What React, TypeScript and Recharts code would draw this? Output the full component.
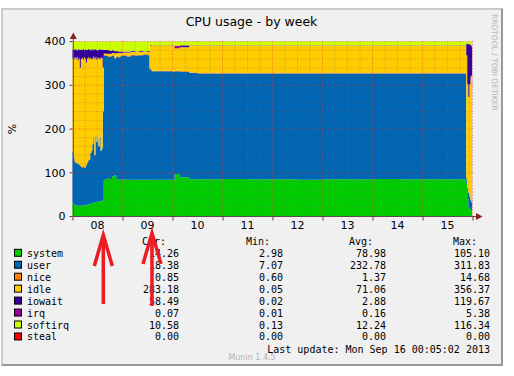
import React from "react";
import { AreaChart, Area, XAxis, YAxis } from "recharts";

// hours since Sep 08 00:00 (30 min RRD steps, denser where the picture moves)
const hours = [
  0, 0.5, 1, 1.5, 2, 2.5, 3, 3.5, 4, 4.5, 5, 5.5, 6, 6.5, 7, 7.5, 8, 8.5, 9, 9.5,
  10, 10.5, 11, 11.5, 12, 12.5, 13, 13.5, 14, 14.5,
  15, 16, 17, 18, 19, 20, 21, 22, 23, 24, 26, 28, 30, 32, 34, 36,
  37, 38, 42, 48, 49, 51.5, 56, 60, 72, 84, 96, 108, 120, 132, 144, 156, 168, 180,
  188.5, 189, 189.5, 190, 190.5, 191, 191.5, 191.8,
];

const system = [
  33, 28, 25, 25, 25, 24, 25, 25, 24, 25, 26, 26, 25, 27, 27, 28, 28, 30, 29, 31,
  33, 32, 33, 34, 33, 35, 34, 35, 36, 37,
  84, 86, 88, 85, 92, 94, 86, 84, 84, 85, 84, 84, 84, 84, 84, 84,
  84, 84, 84, 84, 97, 90, 85, 85, 86, 85, 85, 84, 85, 85, 86, 85, 85, 85,
  85, 75, 40, 22, 18, 15, 14, 14,
];
const user = [
  115, 107, 101, 97, 98, 96, 94, 91, 90, 87, 89, 85, 87, 90, 96, 100, 102, 115, 121, 134,
  147, 108, 153, 136, 145, 125, 148, 115, 119, 203,
  284, 281, 277, 281, 276, 268, 280, 280, 283, 283, 282, 285, 284, 285, 286, 285,
  253, 248, 248, 247, 235, 241, 243, 242, 241, 242, 242, 243, 242, 242, 241, 242, 242, 242,
  242, 12, 25, 32, 28, 22, 18, 18,
];
const nice = [
  1, 1, 1, 1, 1, 1, 1, 1, 1, 1, 1, 1, 1, 1, 1, 1, 1, 1, 1, 1,
  1, 1, 1, 1, 1, 1, 1, 1, 1, 1,
  1.5, 1.5, 1.5, 1.5, 1.5, 1.5, 1.5, 1.5, 1.5, 1.5, 1.5, 1.5, 1.5, 1.5, 1.5, 1.5,
  1.5, 1.5, 1.5, 1.5, 1.5, 1.5, 1.5, 1.5, 1.5, 1.5, 1.5, 1.5, 1.5, 1.5, 1.5, 1.5, 1.5, 1.5,
  1.5, 1.5, 1.5, 1.5, 1.5, 1, 1, 1,
];
const idle = [
  213, 224, 237, 238, 241, 237, 242, 223, 245, 250, 243, 252, 248, 234, 238, 235, 229, 217, 208, 196,
  185, 220, 177, 187, 184, 201, 177, 213, 206, 100,
  3.5, 3.5, 5.5, 4.5, 4.5, 9.5, 6.5, 8.5, 5.5, 5.5, 7.5, 5.5, 6.5, 5.5, 4.5, 5.5,
  52.5, 57.5, 57.5, 58.5, 51.5, 54.5, 61.5, 62.5, 62.5, 62.5, 62.5, 62.5, 62.5, 62.5, 62.5, 62.5, 62.5, 62.5,
  62.5, 280, 236, 218, 255, 282, 290, 290,
];
const iowait = [
  20, 21, 19, 21, 15, 25, 20, 41, 22, 18, 24, 16, 21, 30, 19, 19, 22, 17, 24, 20,
  15, 22, 18, 23, 17, 20, 23, 17, 20, 40,
  8, 9, 8, 7, 6, 5, 4, 3, 3, 2, 2, 2, 1, 2, 1, 2,
  1, 0.5, 0.5, 0.5, 0.5, 4, 0.5, 0.5, 0.5, 0.5, 0.5, 0.5, 0.5, 0.5, 0.5, 0.5, 0.5, 0.5,
  0.5, 27, 93, 120, 92, 72, 66, 66,
];
const irq = [
  0.1, 0.1, 0.1, 0.1, 0.1, 0.1, 0.1, 0.1, 0.1, 0.1, 0.1, 0.1, 0.1, 0.1, 0.1, 0.1, 0.1, 0.1, 0.1, 0.1,
  0.1, 0.1, 0.1, 0.1, 0.1, 0.1, 0.1, 0.1, 0.1, 0.1,
  0.2, 0.2, 0.2, 0.2, 0.2, 0.2, 0.2, 0.2, 0.2, 0.2, 0.2, 0.2, 0.2, 0.2, 0.2, 0.2,
  0.2, 0.2, 0.2, 0.2, 5, 0.5, 0.2, 0.2, 0.2, 0.2, 0.2, 0.2, 0.2, 0.2, 0.2, 0.2, 0.2, 0.2,
  0.2, 0.2, 0.2, 0.2, 0.2, 0.1, 0.1, 0.1,
];
const softirq = [
  18, 19, 17, 18, 20, 17, 18, 19, 18, 19, 17, 20, 18, 18, 19, 17, 18, 20, 17, 18,
  19, 17, 18, 19, 20, 18, 17, 19, 18, 19,
  19, 19, 20, 21, 20, 22, 22, 23, 23, 23, 23, 22, 23, 22, 23, 22,
  8, 8.5, 8.5, 8.5, 9.5, 8.5, 8.3, 8.3, 8.3, 8.3, 8.3, 8.3, 8.3, 8.3, 8.3, 8.3, 8.3, 8.3,
  8.3, 4.3, 4.3, 6.3, 5.3, 8, 11, 11,
];
const steal = [
  0, 0, 0, 0, 0, 0, 0, 0, 0, 0, 0, 0, 0, 0, 0, 0, 0, 0, 0, 0,
  0, 0, 0, 0, 0, 0, 0, 0, 0, 0,
  0, 0, 0, 0, 0, 0, 0, 0, 0, 0, 0, 0, 0, 0, 0, 0,
  0, 0, 0, 0, 0, 0, 0, 0, 0, 0, 0, 0, 0, 0, 0, 0, 0, 0,
  0, 0, 0, 0, 0, 0, 0, 0,
];

const seriesNames = ["system", "user", "nice", "idle", "iowait", "irq", "softirq", "steal"];
const seriesColors = ["#00CC00", "#0066B3", "#FF8000", "#FFCC00", "#330099", "#990099", "#CCFF00", "#FF0000"];
const seriesValues = [system, user, nice, idle, iowait, irq, softirq, steal];

const curValues = ["14.26", "18.38", "0.85", "283.18", "58.49", "0.07", "10.58", "0.00"];
const minValues = ["2.98", "7.07", "0.60", "0.05", "0.02", "0.01", "0.13", "0.00"];
const avgValues = ["78.98", "232.78", "1.37", "71.06", "2.88", "0.16", "12.24", "0.00"];
const maxValues = ["105.10", "311.83", "14.68", "356.37", "119.67", "5.38", "116.34", "0.00"];

const dayLabels = ["08", "09", "10", "11", "12", "13", "14", "15"];
const xTicks = [0, 12, 24, 36, 48, 60, 72, 84, 96, 108, 120, 132, 144, 156, 168, 180, 192];
const yTicks = [0, 100, 200, 300, 400];
const yMinor = [20, 40, 60, 80, 120, 140, 160, 180, 220, 240, 260, 280, 320, 340, 360, 380];
const yMajor = [100, 200, 300, 400];
const xMinor = [6, 12, 18, 30, 36, 42, 54, 60, 66, 78, 84, 90, 102, 108, 114, 126, 132, 138, 150, 156, 162, 174, 180, 186];
const xMajor = [24, 48, 72, 96, 120, 144, 168, 192];

const data = hours.map((h, i) => {
  const row: Record<string, number> = { h };
  seriesNames.forEach((n, k) => (row[n] = seriesValues[k][i]));
  return row;
});

// plot box in page pixels
const PL = 72.5;
const PR = 472.5;
const PT = 41.5;
const PB = 216.5;
const gx = (h: number) => PL + (h * (PR - PL)) / 192;
const gy = (v: number) => PB - (v * (PB - PT)) / 400;

const mono = "'DejaVu Sans Mono', monospace";
const sans = "'DejaVu Sans', sans-serif";

function DayTick(props: any) {
  const { x, y, payload } = props;
  const v = payload.value as number;
  if (v % 24 === 0) {
    return <line x1={x + 0.5} y1={y} x2={x + 0.5} y2={y + 4} stroke="#6a3a3a" />;
  }
  return (
    <text x={x} y={y + 12.5} textAnchor="middle" fontSize={11} fontFamily={sans} fill="#000">
      {dayLabels[(v - 12) / 24]}
    </text>
  );
}

function Arrow({ x, top, bottom }: { x: number; top: number; bottom: number }) {
  return (
    <g stroke="#EC1C24" strokeWidth={3.5} fill="none">
      <line x1={x} y1={top + 2} x2={x} y2={bottom} />
      <polyline points={`${x - 9},${top + 31} ${x},${top} ${x + 9},${top + 31}`} strokeLinejoin="miter" />
    </g>
  );
}

export default function App() {
  const rowY = (i: number) => 253.3 + i * 11.95;
  return (
    <div style={{ position: "absolute", left: 0, top: 0, width: 514, height: 376, background: "#fff", overflow: "hidden" }}>
      <div
        style={{
          position: "absolute", left: 1, top: 8, width: 502, height: 358, boxSizing: "border-box",
          background: "#F0F0F0", borderTop: "2px solid #CBCBCB", borderLeft: "2px solid #CBCBCB",
          borderRight: "2px solid #999", borderBottom: "2px solid #999",
        }}
      />
      <div style={{ position: "absolute", left: 0, top: 0 }}>
        <AreaChart
          width={514}
          height={376}
          data={data}
          margin={{ top: PT, left: PL - 60, right: 514 - PR, bottom: 376 - PB - 30 }}
        >
          <XAxis
            dataKey="h"
            type="number"
            domain={[0, 192]}
            ticks={xTicks}
            interval={0}
            axisLine={false}
            tickLine={false}
            tickSize={0}
            tickMargin={0}
            height={30}
            tick={<DayTick />}
          />
          <YAxis
            type="number"
            domain={[0, 400]}
            ticks={yTicks}
            width={60}
            axisLine={false}
            tickSize={3}
            tickMargin={4}
            tickLine={{ stroke: "#6a3a3a" }}
            tick={{ fontSize: 11, fontFamily: sans, fill: "#000" }}
          />
          {seriesNames.map((n, k) => (
            <Area
              key={n}
              dataKey={n}
              stackId="cpu"
              type="stepAfter"
              fill={seriesColors[k]}
              fillOpacity={1}
              stroke="none"
              dot={false}
              activeDot={false}
              isAnimationActive={false}
            />
          ))}
        </AreaChart>
      </div>
      <svg width={514} height={376} style={{ position: "absolute", left: 0, top: 0, pointerEvents: "none" }}>
        <text x={251.5} y={25.5} textAnchor="middle" fontSize={12.5} fontFamily={sans} fill="#000">
          CPU usage - by week
        </text>
        <text transform="translate(491.5,14) rotate(90)" fontSize={7.5} fontFamily={sans} fill="#B4B4B4">
          RRDTOOL / TOBI OETIKER
        </text>
        <text transform={`translate(15.5,${(PT + PB) / 2}) rotate(-90)`} textAnchor="middle" fontSize={11} fontFamily={sans} fill="#000">
          %
        </text>

        {/* rrdtool draws its grid over the data */}
        <g strokeDasharray="1 2" fill="none">
          {yMinor.map((v) => (
            <line key={"ym" + v} x1={PL} x2={PR} y1={gy(v)} y2={gy(v)} stroke="#707070" strokeOpacity={0.45} />
          ))}
          {xMinor.map((v) => (
            <line key={"xm" + v} x1={gx(v)} x2={gx(v)} y1={PT} y2={PB} stroke="#707070" strokeOpacity={0.45} />
          ))}
          {yMajor.map((v) => (
            <line key={"yM" + v} x1={PL} x2={PR} y1={gy(v)} y2={gy(v)} stroke="#E83838" strokeOpacity={0.7} />
          ))}
          {xMajor.map((v) => (
            <line key={"xM" + v} x1={gx(v)} x2={gx(v)} y1={PT} y2={PB} stroke="#E83838" strokeOpacity={0.7} />
          ))}
        </g>

        {/* axes with arrow heads */}
        <line x1={PL + 0.8} y1={PB} x2={PL + 0.8} y2={38} stroke="#5a4a4a" />
        <line x1={PL} y1={PB} x2={477} y2={PB} stroke="#5a4a4a" />
        <polygon points={`${PL + 0.8 - 3.5},39 ${PL + 0.8 + 3.5},39 ${PL + 0.8},32.5`} fill="#8B1E1E" />
        <polygon points={`476,${PB - 3.5} 476,${PB + 3.5} 482.5,${PB}`} fill="#8B1E1E" />

        {/* legend table */}
        <g fontFamily={mono} fontSize={10} fill="#000">
          <text x={166} y={245.3} textAnchor="end">Cur:</text>
          <text x={270} y={245.3} textAnchor="end">Min:</text>
          <text x={373} y={245.3} textAnchor="end">Avg:</text>
          <text x={477} y={245.3} textAnchor="end">Max:</text>
          {seriesNames.map((n, i) => (
            <g key={n}>
              <rect x={14.5} y={rowY(i) - 4} width={7} height={7} fill={seriesColors[i]} stroke="#000" strokeWidth={1} />
              <text x={27} y={rowY(i) + 3.5}>{n}</text>
              <text x={179} y={rowY(i) + 3.5} textAnchor="end">{curValues[i]}</text>
              <text x={283} y={rowY(i) + 3.5} textAnchor="end">{minValues[i]}</text>
              <text x={386} y={rowY(i) + 3.5} textAnchor="end">{avgValues[i]}</text>
              <text x={490} y={rowY(i) + 3.5} textAnchor="end">{maxValues[i]}</text>
            </g>
          ))}
          <text x={490} y={352.6} textAnchor="end">Last update: Mon Sep 16 00:05:02 2013</text>
        </g>
        <text x={252} y={359.6} textAnchor="middle" fontSize={8} fontFamily={sans} fill="#B4B4B4">
          Munin 1.4.5
        </text>

        <Arrow x={103.3} top={235} bottom={304} />
        <Arrow x={152} top={233} bottom={306} />
      </svg>
    </div>
  );
}
